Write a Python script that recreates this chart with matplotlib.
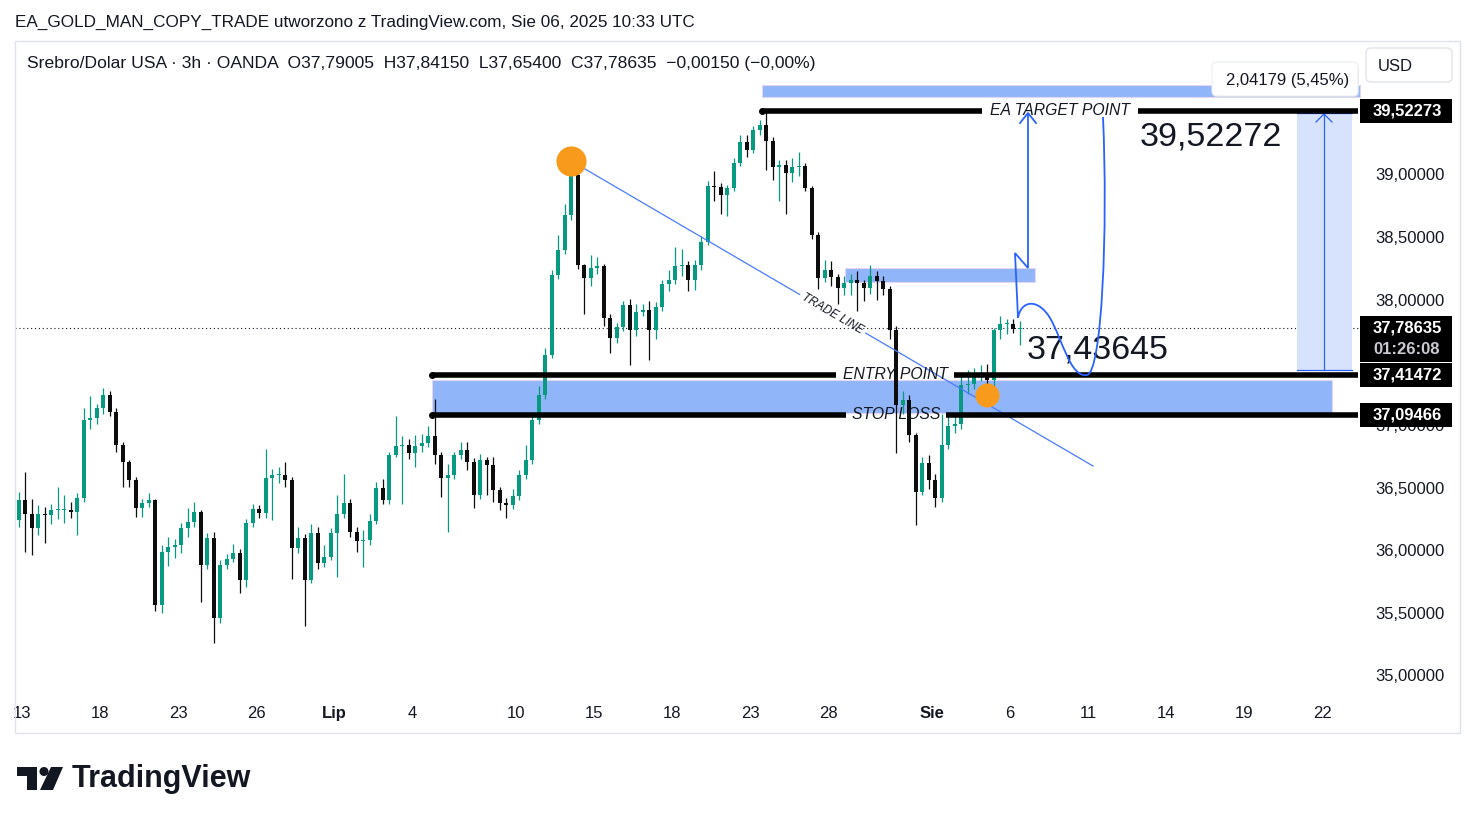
import numpy as np
import matplotlib
matplotlib.use("Agg")
import matplotlib.pyplot as plt
from matplotlib.patches import Rectangle, FancyBboxPatch, Polygon, Circle, PathPatch
from matplotlib.path import Path

plt.rcParams['font.family'] = ['Liberation Sans', 'DejaVu Sans']

# ---------------- data (XAG/USD, 6h aggregation of the 3h chart) ----------------
first_open = 36.253
closes = [
    36.413, 36.301, 36.189, 36.301, 36.293, 36.333, 36.333, 36.333, 36.317, 36.429,
    37.052, 37.068, 37.148, 37.251, 37.116, 36.852, 36.716, 36.573, 36.349, 36.389,
    36.413, 35.575, 35.998, 36.038, 36.054, 36.189, 36.237, 36.317, 35.894, 36.110,
    35.471, 35.894, 35.942, 35.990, 35.774, 36.229, 36.341, 36.309, 36.589, 36.613,
    36.613, 36.573, 36.030, 36.110, 35.774, 36.149, 35.910, 35.958, 36.149, 36.301,
    36.389, 36.158, 36.086, 36.094, 36.245, 36.509, 36.413, 36.772, 36.844, 36.852,
    36.788, 36.844, 36.868, 36.924, 36.772, 36.589, 36.613, 36.772, 36.812, 36.716,
    36.453, 36.732, 36.692, 36.493, 36.389, 36.373, 36.445, 36.613, 36.732, 37.052,
    37.251, 37.571, 38.209, 38.409, 38.688, 39.008, 38.289, 38.185, 38.265, 38.281,
    37.866, 37.706, 37.794, 37.970, 37.770, 37.914, 37.930, 37.770, 37.954, 38.138,
    38.169, 38.281, 38.289, 38.169, 38.289, 38.473, 38.920, 38.912, 38.848, 38.904,
    39.104, 39.271, 39.207, 39.367, 39.407, 39.279, 39.072, 39.088, 39.024, 39.072,
    39.080, 38.904, 38.529, 38.185, 38.249, 38.193, 38.106, 38.146, 38.169, 38.146,
    38.106, 38.201, 38.162, 38.098, 37.770, 37.171, 37.211, 36.932, 36.477, 36.708,
    36.573, 36.429, 36.852, 37.004, 37.020, 37.331, 37.339, 37.403, 37.427, 37.371,
    37.770, 37.818, 37.818, 37.778, 37.786]
highs = [
    36.48, 36.64, 36.42, 36.37, 36.36, 36.38, 36.52, 36.45, 36.40, 36.47,
    37.15, 37.24, 37.18, 37.31, 37.28, 37.15, 36.88, 36.73, 36.60, 36.42,
    36.47, 36.42, 36.05, 36.12, 36.10, 36.23, 36.35, 36.40, 36.33, 36.15,
    36.16, 35.93, 35.98, 36.06, 36.02, 36.26, 36.38, 36.37, 36.82, 36.66,
    36.68, 36.72, 36.60, 36.20, 36.14, 36.22, 36.20, 36.05, 36.19, 36.45,
    36.62, 36.42, 36.20, 36.17, 36.30, 36.56, 36.58, 36.80, 37.08, 36.92,
    36.90, 36.93, 36.94, 37.00, 37.22, 36.80, 36.70, 36.80, 36.88, 36.88,
    36.75, 36.78, 36.76, 36.76, 36.52, 36.43, 36.50, 36.65, 36.85, 37.10,
    37.32, 37.63, 38.25, 38.53, 38.78, 39.12, 39.13, 38.30, 38.37, 38.35,
    38.30, 37.90, 37.83, 38.00, 38.02, 37.98, 37.98, 38.00, 37.99, 38.17,
    38.25, 38.43, 38.42, 38.32, 38.33, 38.52, 38.96, 39.04, 38.94, 38.93,
    39.14, 39.33, 39.33, 39.40, 39.45, 39.51, 39.31, 39.13, 39.13, 39.14,
    39.19, 39.10, 38.92, 38.55, 38.33, 38.32, 38.22, 38.20, 38.22, 38.24,
    38.17, 38.29, 38.24, 38.20, 38.12, 37.80, 37.28, 37.25, 36.95, 36.76,
    36.77, 36.62, 37.10, 37.08, 37.08, 37.43, 37.45, 37.47, 37.49, 37.50,
    37.79, 37.88, 37.86, 37.86, 37.8415]
lows = [
    36.20, 36.00, 35.97, 36.13, 36.07, 36.22, 36.26, 36.23, 36.27, 36.13,
    36.40, 36.98, 37.02, 37.10, 37.08, 36.80, 36.52, 36.52, 36.28, 36.28,
    36.36, 35.53, 35.51, 35.89, 35.95, 35.99, 36.12, 36.20, 35.60, 35.86,
    35.27, 35.43, 35.86, 35.92, 35.67, 35.72, 36.20, 36.27, 36.27, 36.25,
    36.55, 36.52, 35.78, 35.99, 35.41, 35.75, 35.86, 35.88, 35.93, 35.80,
    36.27, 36.12, 36.00, 35.88, 36.05, 36.22, 36.38, 36.38, 36.76, 36.38,
    36.74, 36.68, 36.80, 36.84, 36.70, 36.44, 36.16, 36.58, 36.74, 36.65,
    36.35, 36.42, 36.45, 36.40, 36.33, 36.27, 36.34, 36.41, 36.58, 36.70,
    37.02, 37.22, 37.55, 38.18, 38.38, 38.65, 38.26, 37.90, 38.12, 38.22,
    37.80, 37.59, 37.67, 37.76, 37.49, 37.72, 37.88, 37.53, 37.70, 37.92,
    38.08, 38.14, 38.20, 38.08, 38.09, 38.25, 38.45, 38.80, 38.70, 38.68,
    38.88, 39.08, 39.15, 39.18, 39.33, 39.05, 38.97, 38.80, 38.70, 38.95,
    39.00, 38.88, 38.50, 38.10, 38.15, 38.12, 37.98, 38.05, 38.05, 37.92,
    38.00, 38.06, 38.01, 38.05, 37.70, 36.79, 37.10, 36.88, 36.21, 36.45,
    36.50, 36.36, 36.40, 36.82, 36.95, 36.98, 37.26, 37.30, 37.36, 37.28,
    37.32, 37.70, 37.74, 37.75, 37.654]
candles_per_day = 4

tick_days = [0, 3, 6, 9, 12, 15, 19, 22, 25, 28, 31, 35, 38, 41, 44, 47, 50]
tick_labels = ["13", "18", "23", "26", "Lip", "4", "10", "15", "18", "23", "28",
               "Sie", "6", "11", "14", "19", "22"]
month_labels = ["Lip", "Sie"]
price_ticks = [35.0, 35.5, 36.0, 36.5, 38.0, 38.5, 39.0]
partly_hidden_tick = 37.0

target_price = 39.52273
entry_price = 37.41472
stop_price = 37.09466
last_price = 37.78635
second_marker_price = 37.25
target_text = "39,52272"
projection_text = "37,43645"
range_text = "2,04179 (5,45%)"
countdown = "01:26:08"
header = "EA_GOLD_MAN_COPY_TRADE utworzono z TradingView.com, Sie 06, 2025 10:33 UTC"
legend = ("Srebro/Dolar USA \u00b7 3h \u00b7 OANDA  O37,79005  H37,84150  L37,65400  "
          "C37,78635  \u22120,00150 (\u22120,00%)")

# ---------------- layout helpers ----------------
W, H = 1475, 824
fig = plt.figure(figsize=(W / 100, H / 100), dpi=100)
fig.patch.set_facecolor('white')

def DX(px):  # pixel column -> trading-day coordinate
    return (px - 22) / 26.0

def PY(py):  # pixel row -> price
    return 40.405 - py / 125.25

def fmt(p):
    return f"{p:.5f}".replace('.', ',')

TXT = '#131722'
BLUE = '#2962ff'
ZONE = '#91b5f9'
ORANGE = '#f89a1c'

ax = fig.add_axes([15 / W, 1 - 733 / H, (1460 - 15) / W, (733 - 41) / H])
ax.set_xlim(DX(15), DX(1460))
ax.set_ylim(PY(733), PY(41))
ax.axis('off')

# ---------------- candles ----------------
C = np.array(closes)
O = np.r_[first_open, C[:-1]]
Hh = np.array(highs)
Ll = np.array(lows)
xs = (np.arange(len(C)) + 0.5) / candles_per_day - 0.25
cols = ['#089981' if c >= o else '#0d0d0d' for o, c in zip(O, C)]
ax.vlines(xs, Ll, Hh, colors=cols, linewidth=0.9, zorder=3)
ax.bar(xs, np.maximum(np.abs(C - O), 0.008), bottom=np.minimum(O, C), width=0.17,
       color=cols, linewidth=0, zorder=3)

# last price dotted line
ax.plot([DX(15), DX(1360)], [last_price, last_price], color=TXT, lw=0.8,
        ls=(0, (1, 2.5)), zorder=2)

# ---------------- blue boxes ----------------
def pxrect(x0, y0, x1, y1, fc, ec='#e3d6f3', z=2, lw=0.8):
    ax.add_patch(Rectangle((DX(x0), PY(y1)), DX(x1) - DX(x0), PY(y0) - PY(y1),
                           facecolor=fc, edgecolor=ec, lw=lw, zorder=z))

pxrect(432, 380, 1332, 413, ZONE)
pxrect(845, 268, 1035, 282, ZONE)
pxrect(762, 85, 1360, 97, ZONE)

# measurement range
pxrect(1297, 113, 1352, 370, '#d7e3fd', ec='none', z=2)
for yy in (113, 370):
    ax.plot([DX(1297), DX(1352)], [PY(yy), PY(yy)], color=BLUE, lw=0.9, zorder=3)
ax.plot([DX(1324), DX(1324)], [PY(370), PY(114)], color=BLUE, lw=0.9, zorder=3)
ax.plot([DX(1316), DX(1324), DX(1332)], [PY(122), PY(114), PY(122)], color=BLUE, lw=0.9, zorder=3)

# ---------------- levels ----------------
def level(price, x0, x1, g0, g1, label, lx):
    for a, b in ((x0, g0), (g1, x1)):
        ax.plot([DX(a), DX(b)], [price, price], color='black', lw=4,
                solid_capstyle='butt', zorder=5)
    ax.plot([DX(x0)], [price], marker='o', ms=4, color='black', zorder=5)
    ax.text(DX(lx), price, label, ha='center', va='center', fontsize=11.3,
            style='italic', color=TXT, zorder=6)

level(target_price, 762, 1358, 982, 1138, "EA TARGET POINT", 1060)
level(entry_price, 432, 1358, 836, 954, "ENTRY POINT", 895)
level(stop_price, 432, 1358, 846, 946, "STOP LOSS", 896)

# ---------------- trade line ----------------
p0 = np.array([xs[85], Hh[85]])
p1 = np.array([DX(1093), PY(466)])
t0, t1 = 0.4376, 0.5643
for a, b in ((0, t0), (t1, 1)):
    q0 = p0 + a * (p1 - p0)
    q1 = p0 + b * (p1 - p0)
    ax.plot([q0[0], q1[0]], [q0[1], q1[1]], color='#4a7bfc', lw=0.9, zorder=4)
d0 = ax.transData.transform(p0)
d1 = ax.transData.transform(p1)
ang = np.degrees(np.arctan2(d1[1] - d0[1], d1[0] - d0[0]))
mid = p0 + 0.5 * (p1 - p0)
ax.text(mid[0], mid[1], "TRADE LINE", rotation=ang, rotation_mode='anchor',
        ha='center', va='center', fontsize=8.5, style='italic', color=TXT, zorder=6)

# orange markers
ax.scatter([xs[85]], [Hh[85]], s=470, color=ORANGE, zorder=7, linewidths=0)
ax.scatter([xs[149]], [second_marker_price], s=300, color=ORANGE, zorder=7, linewidths=0)

# ---------------- hand-drawn projection path ----------------
def P(x, y):
    return (DX(x), PY(y))

verts = [P(1028, 113), P(1028, 268), P(1015, 253), P(1018, 318),
         P(1021, 300), P(1038, 298), P(1050, 318),
         P(1062, 338), P(1070, 378), P(1087, 375),
         P(1102, 372), P(1108, 230), P(1103, 117)]
codes = [Path.MOVETO, Path.LINETO, Path.LINETO, Path.LINETO,
         Path.CURVE4, Path.CURVE4, Path.CURVE4,
         Path.CURVE4, Path.CURVE4, Path.CURVE4,
         Path.CURVE4, Path.CURVE4, Path.CURVE4]
ax.add_patch(PathPatch(Path(verts, codes), facecolor='none', edgecolor=BLUE, lw=1.3, zorder=6))
ax.plot([DX(1020), DX(1028), DX(1036)], [PY(123), PY(113), PY(123)], color=BLUE, lw=1.3, zorder=6)

# big annotation numbers
ax.text(DX(1211), PY(137), target_text, ha='center', va='center', fontsize=24.5, color=TXT, zorder=6)
ax.text(DX(1098), PY(350), projection_text, ha='center', va='center', fontsize=24.5, color=TXT, zorder=5)

# ---------------- price axis ----------------
for p in price_ticks:
    ax.text(DX(1445), p, fmt(p), ha='right', va='center', fontsize=12, color=TXT, zorder=3)
# the 37,00000 tick is mostly hidden behind the stop-loss label: show only its lower edge
clip = Rectangle((DX(1360), PY(733)), DX(1460) - DX(1360), PY(429) - PY(733),
                 transform=ax.transData, facecolor='none', edgecolor='none')
ax.add_patch(clip)
tt = ax.text(DX(1445), partly_hidden_tick, fmt(partly_hidden_tick), ha='right', va='center',
             fontsize=12, color=TXT, zorder=3)
tt.set_clip_path(clip)

def price_box(price, text, top_px_off=12, bot_px_off=12, sub=None):
    ypx = (40.405 - price) * 125.25
    ax.add_patch(Rectangle((DX(1360), PY(ypx + bot_px_off)), DX(1452) - DX(1360),
                           PY(ypx - top_px_off) - PY(ypx + bot_px_off),
                           facecolor='black', edgecolor='none', zorder=8))
    ax.text(DX(1407), price, text, ha='center', va='center', fontsize=12,
            fontweight='bold', color='white', zorder=9)
    if sub:
        ax.text(DX(1407), PY(ypx + 22), sub, ha='center', va='center', fontsize=12,
                fontweight='bold', color='#c9cbd1', zorder=9)

price_box(target_price, fmt(target_price))
price_box(last_price, fmt(last_price), 12, 34, countdown)
price_box(entry_price, fmt(entry_price))
price_box(stop_price, fmt(stop_price))

# ---------------- time axis ----------------
for d, lab in zip(tick_days, tick_labels):
    ax.text(d, PY(714), lab, ha='center', va='center', fontsize=12, color=TXT,
            fontweight='bold' if lab in month_labels else 'normal')

# ---------------- overlay (pixel space) ----------------
ov = fig.add_axes([0, 0, 1, 1], zorder=10)
ov.set_xlim(0, W)
ov.set_ylim(H, 0)
ov.axis('off')
ov.patch.set_visible(False)

ov.add_patch(Rectangle((15, 41), 1445, 692, facecolor='none', edgecolor='#e0e3eb', lw=1))
ov.text(15, 22, header, ha='left', va='center', fontsize=12.3, color=TXT)
ov.text(27, 63, legend, ha='left', va='center', fontsize=12.6, color=TXT)

# USD box
ov.add_patch(FancyBboxPatch((1366, 48), 86, 34, boxstyle='round,pad=0,rounding_size=5',
                            facecolor='white', edgecolor='#e0e3eb', lw=1))
ov.text(1378, 66, "USD", ha='left', va='center', fontsize=12, color=TXT)

# range tooltip
ov.add_patch(FancyBboxPatch((1213, 64), 146, 34, boxstyle='round,pad=0,rounding_size=5',
                            facecolor='#d9dbe0', edgecolor='none', alpha=0.6))
ov.add_patch(FancyBboxPatch((1212, 62), 146, 34, boxstyle='round,pad=0,rounding_size=5',
                            facecolor='white', edgecolor='#eceef2', lw=0.8))
ov.text(1288, 80, range_text, ha='center', va='center', fontsize=12, color=TXT)

# TradingView logo
ov.add_patch(Polygon([(17, 767), (37, 767), (37, 790), (27, 790), (27, 776), (17, 776)],
                     closed=True, facecolor=TXT, edgecolor='none'))
ov.add_patch(Circle((44, 771.5), 4.5, facecolor=TXT, edgecolor='none'))
ov.add_patch(Polygon([(51, 767), (63, 767), (53, 790), (40, 790)], closed=True,
                     facecolor=TXT, edgecolor='none'))
ov.text(72, 779, "TradingView", ha='left', va='center', fontsize=22, fontweight='bold', color=TXT)

fig.savefig("out.png", dpi=100, facecolor='white')
